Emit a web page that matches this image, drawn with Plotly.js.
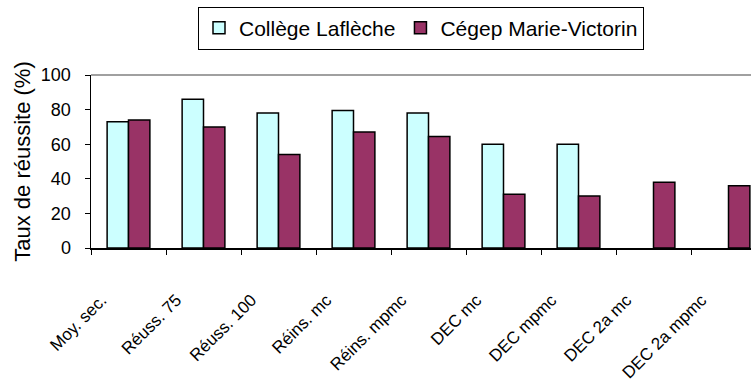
<!DOCTYPE html>
<html>
<head>
<meta charset="utf-8">
<script src="https://cdn.plot.ly/plotly-3.0.1.min.js"></script>
<style>html,body{margin:0;padding:0;background:#fff}#chart{width:751px;height:388px}</style>
</head>
<body>
<div id="chart"></div>
<script>
const categories = ["Moy. sec.", "Réuss. 75", "Réuss. 100", "Réins. mc", "Réins. mpmc", "DEC mc", "DEC mpmc", "DEC 2a mc", "DEC 2a mpmc"];
const seriesNames = ["Collège Laflèche", "Cégep Marie-Victorin"];
const laflecheValues = [73, 86, 78, 79.5, 78, 60, 60, null, null];
const marieVictorinValues = [74, 70, 54, 67, 64.5, 31, 30, 38, 36];
const yTicks = [0, 20, 40, 60, 80, 100];

const FONT = "Liberation Sans, Arial, sans-serif";

const traces = [
  {type: "bar", name: seriesNames[0], x: categories, y: laflecheValues,
   marker: {color: "#CCFFFF", line: {color: "#000000", width: 1.5}}},
  {type: "bar", name: seriesNames[1], x: categories, y: marieVictorinValues,
   marker: {color: "#993366", line: {color: "#000000", width: 1.5}}}
];

const layout = {
  width: 751, height: 388,
  margin: {l: 91, r: 0, t: 75, b: 140, pad: 0},
  paper_bgcolor: "#ffffff", plot_bgcolor: "#ffffff",
  font: {family: FONT, color: "#000000"},
  barmode: "group", bargap: 0.43, bargroupgap: 0,
  showlegend: true,
  legend: {orientation: "h", x: 0.5, xanchor: "center", y: 1.395, yanchor: "top",
           font: {family: FONT, size: 21, color: "#000"}, bordercolor: "#000", borderwidth: 1,
           bgcolor: "#fff", traceorder: "normal", itemwidth: 30},
  xaxis: {type: "category", range: [-0.5, 8.3], showline: true, linecolor: "#000", linewidth: 1.5,
          ticks: "outside", tickson: "boundaries", ticklen: 5, tickcolor: "#000", tickwidth: 1,
          tickangle: -45, tickfont: {family: FONT, size: 17, color: "#000"},
          ticklabelstandoff: 34, ticklabelshift: -27, showgrid: false, zeroline: false, fixedrange: true},
  yaxis: {range: [0, 100], tickvals: yTicks, ticktext: yTicks.map(String), showline: true, linecolor: "#000", linewidth: 1.5,
          ticks: "outside", ticklen: 5, tickcolor: "#000", tickwidth: 1,
          tickfont: {family: FONT, size: 18, color: "#000"}, ticklabelstandoff: 10,
          showgrid: false, zeroline: false, fixedrange: true,
          title: {text: "Taux de réussite (%)", font: {family: FONT, size: 22, color: "#000"}, standoff: 4}},
  shapes: [{type: "line", xref: "paper", yref: "paper", x0: 0, x1: 1, y0: 1, y1: 1,
            line: {color: "#808080", width: 1.5}}]
};

Plotly.newPlot("chart", traces, layout, {displayModeBar: false, staticPlot: true});
</script>
</body>
</html>
